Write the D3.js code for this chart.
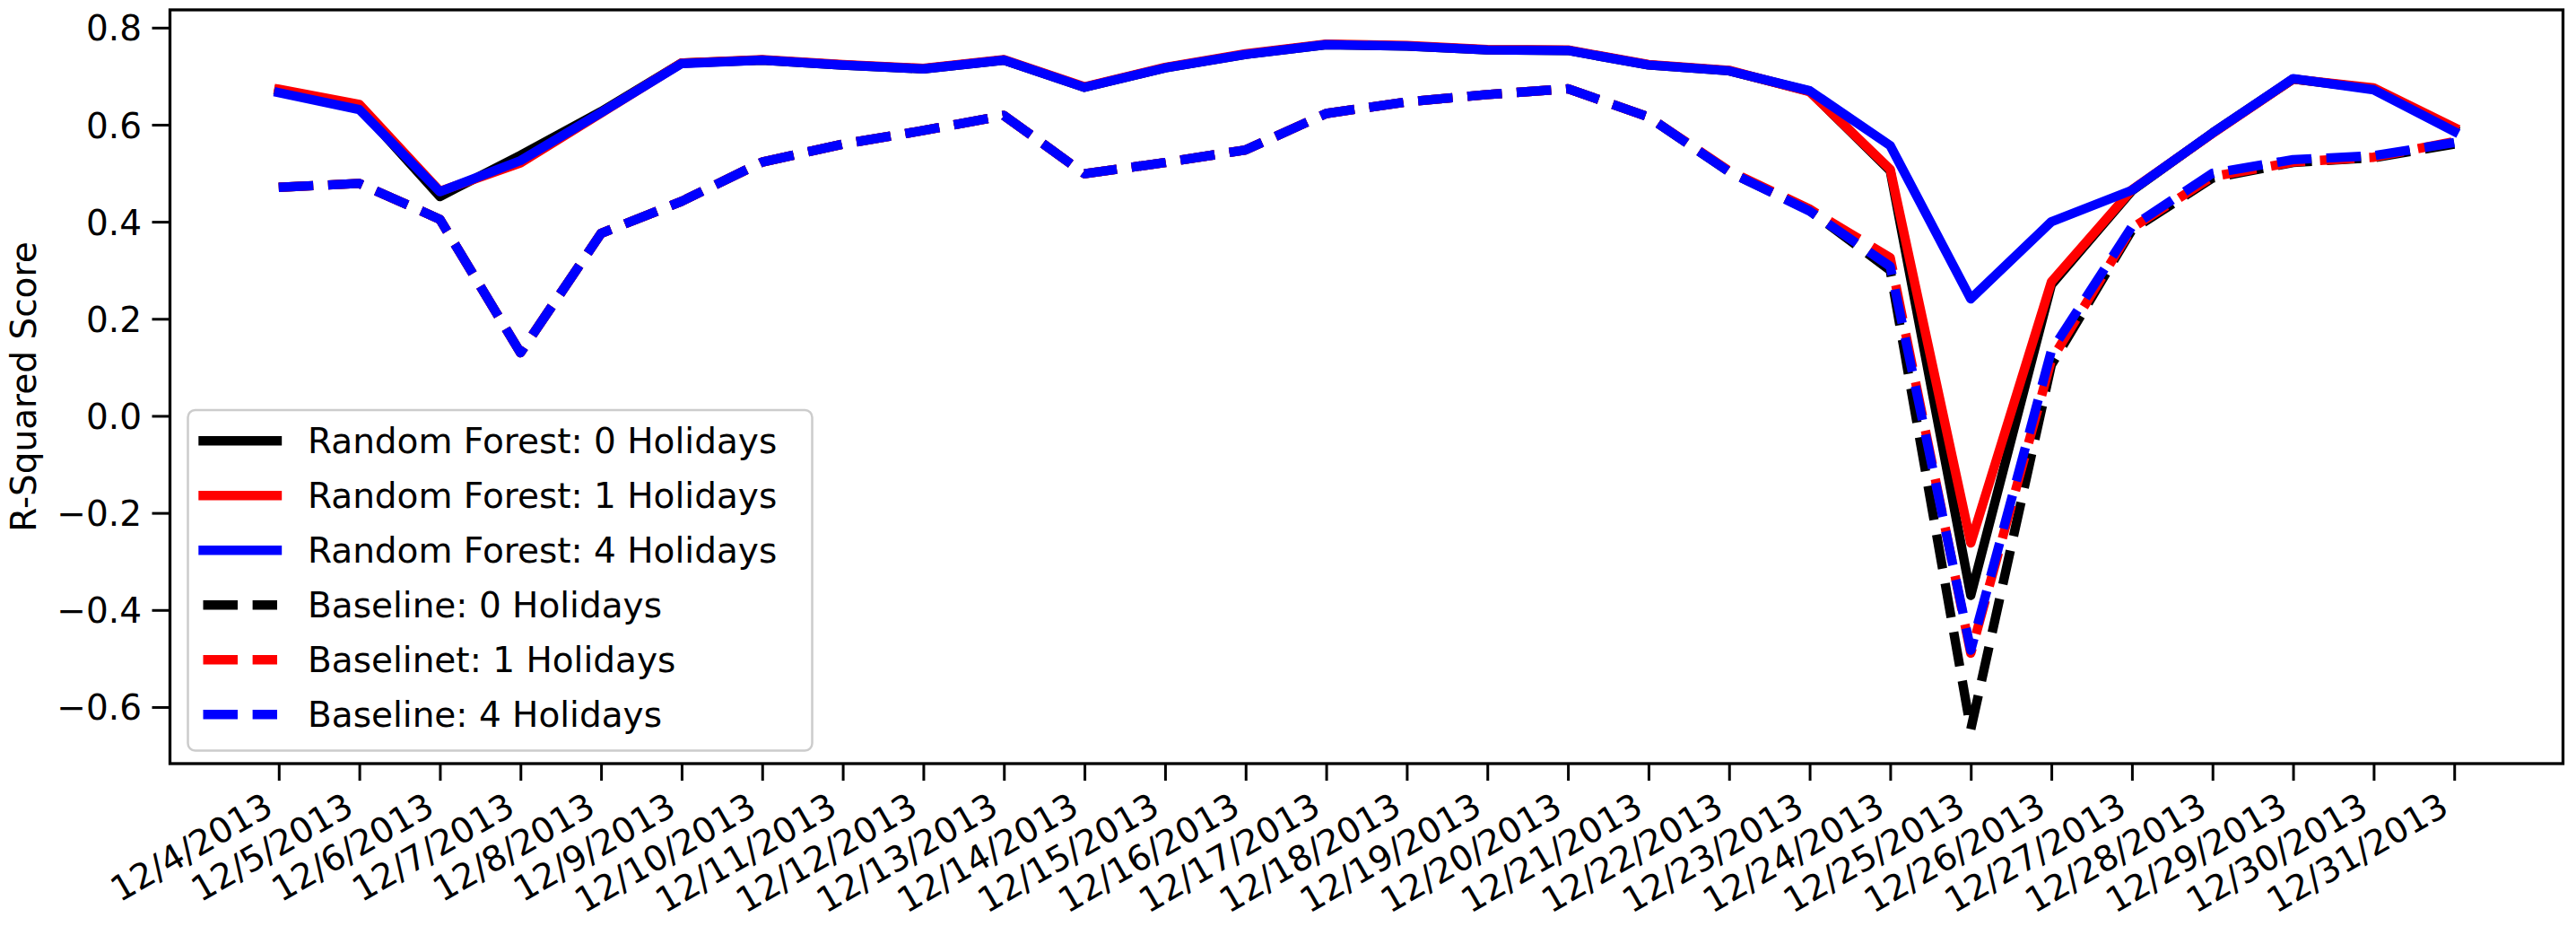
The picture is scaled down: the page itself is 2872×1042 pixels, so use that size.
<!DOCTYPE html>
<html>
<head>
<meta charset="utf-8">
<script src="https://cdn.jsdelivr.net/npm/d3@7"></script>
<style>
  body { margin: 0; background: #fff; }
  text { font-family: "DejaVu Sans", sans-serif; }
</style>
</head>
<body>
<div id="vis"></div>
<script>
// dates on the x axis
const dates = ["12/4/2013", "12/5/2013", "12/6/2013", "12/7/2013", "12/8/2013", "12/9/2013",
  "12/10/2013", "12/11/2013", "12/12/2013", "12/13/2013", "12/14/2013", "12/15/2013",
  "12/16/2013", "12/17/2013", "12/18/2013", "12/19/2013", "12/20/2013", "12/21/2013",
  "12/22/2013", "12/23/2013", "12/24/2013", "12/25/2013", "12/26/2013", "12/27/2013",
  "12/28/2013", "12/29/2013", "12/30/2013", "12/31/2013"];

// r-squared, random forest
const rf0 = [0.670, 0.636, 0.452, 0.537, 0.627, 0.727, 0.733, 0.723, 0.715, 0.733, 0.677, 0.717, 0.745, 0.765,
  0.762, 0.754, 0.753, 0.723, 0.711, 0.669, 0.505, -0.370, 0.270, 0.464, 0.583, 0.694, 0.674, 0.590];
const rf1 = [0.673, 0.642, 0.463, 0.521, 0.624, 0.727, 0.734, 0.724, 0.716, 0.734, 0.678, 0.718, 0.746, 0.766,
  0.763, 0.755, 0.754, 0.724, 0.712, 0.668, 0.508, -0.262, 0.276, 0.466, 0.582, 0.694, 0.676, 0.594];
const rf4 = [0.666, 0.631, 0.462, 0.526, 0.625, 0.726, 0.733, 0.723, 0.715, 0.733, 0.677, 0.717, 0.745, 0.765,
  0.762, 0.754, 0.753, 0.723, 0.711, 0.670, 0.557, 0.241, 0.400, 0.465, 0.583, 0.695, 0.672, 0.586];

// r-squared, baseline
const base0 = [0.471, 0.479, 0.405, 0.130, 0.376, 0.442, 0.523, 0.560, 0.588, 0.619, 0.499, 0.522, 0.548, 0.623,
  0.647, 0.662, 0.674, 0.616, 0.503, 0.423, 0.300, -0.646, 0.105, 0.383, 0.490, 0.522, 0.532, 0.560];
const base1 = [0.471, 0.479, 0.405, 0.130, 0.376, 0.442, 0.523, 0.560, 0.588, 0.619, 0.499, 0.522, 0.548, 0.623,
  0.647, 0.662, 0.674, 0.616, 0.505, 0.426, 0.326, -0.489, 0.115, 0.387, 0.493, 0.523, 0.533, 0.565];
const base4 = [0.471, 0.479, 0.405, 0.130, 0.376, 0.442, 0.523, 0.560, 0.588, 0.619, 0.499, 0.522, 0.548, 0.623,
  0.647, 0.662, 0.674, 0.616, 0.503, 0.422, 0.308, -0.483, 0.134, 0.390, 0.500, 0.528, 0.536, 0.563];

const seriesNames = ["Random Forest: 0 Holidays", "Random Forest: 1 Holidays", "Random Forest: 4 Holidays",
  "Baseline: 0 Holidays", "Baselinet: 1 Holidays", "Baseline: 4 Holidays"];
const seriesValues = [rf0, rf1, rf4, base0, base1, base4];
const seriesColors = ["#000000", "#ff0000", "#0000ff", "#000000", "#ff0000", "#0000ff"];
const seriesDashed = [false, false, false, true, true, true];

const yTicks = [-0.6, -0.4, -0.2, 0.0, 0.2, 0.4, 0.6, 0.8];

let W = 2872, H = 1042;
let margin = { top: 11, left: 189.5, right: 14.5, bottom: 191 };
let plotW = W - margin.left - margin.right,
  plotH = H - margin.top - margin.bottom;

const fontSize = 39;
const lw = 10.4;
const dash = [3.7 * lw, 1.6 * lw].join(",");

let svg = d3.select("#vis")
  .append("svg")
  .attr("width", W)
  .attr("height", H)
  .style("background-color", "white");

let x = d3.scalePoint()
  .domain(dates)
  .range([margin.left, margin.left + plotW])
  .padding(1.35);

// matplotlib style 5% margins
let ext = d3.extent(seriesValues.flat());
let pad = (ext[1] - ext[0]) * 0.05;
let y = d3.scaleLinear()
  .domain([ext[0] - pad, ext[1] + pad])
  .range([margin.top + plotH, margin.top]);

svg.append("clipPath").attr("id", "clip")
  .append("rect")
  .attr("x", margin.left).attr("y", margin.top)
  .attr("width", plotW).attr("height", plotH);

let line = d3.line()
  .x((d, i) => x(dates[i]))
  .y(d => y(d));

let lines = svg.append("g").attr("clip-path", "url(#clip)");
seriesValues.forEach((vals, k) => {
  lines.append("path")
    .datum(vals)
    .attr("d", line)
    .attr("fill", "none")
    .attr("stroke", seriesColors[k])
    .attr("stroke-width", lw)
    .attr("stroke-linejoin", "round")
    .attr("stroke-linecap", seriesDashed[k] ? "butt" : "square")
    .attr("stroke-dasharray", seriesDashed[k] ? dash : null);
});

// axes
let xAxis = svg.append("g")
  .attr("transform", `translate(0,${margin.top + plotH})`)
  .call(d3.axisBottom(x).tickSize(19));
xAxis.select(".domain").remove();
xAxis.selectAll(".tick line").attr("stroke", "#000").attr("stroke-width", 3);
xAxis.selectAll(".tick text")
  .attr("x", 0).attr("y", 0).attr("dy", null)
  .attr("text-anchor", "end")
  .attr("transform", "translate(-4.5,55) rotate(-30)")
  .attr("fill", "#000")
  .style("font-size", fontSize + "px")
  .style("font-family", "DejaVu Sans");

let yAxis = svg.append("g")
  .attr("transform", `translate(${margin.left},0)`)
  .call(d3.axisLeft(y).tickValues(yTicks).tickFormat(d3.format(".1f")).tickSize(20).tickPadding(11.5));
yAxis.select(".domain").remove();
yAxis.selectAll(".tick line").attr("stroke", "#000").attr("stroke-width", 3);
yAxis.selectAll(".tick text")
  .attr("dy", "0.36em")
  .attr("fill", "#000")
  .style("font-size", fontSize + "px")
  .style("font-family", "DejaVu Sans");

// frame
svg.append("rect")
  .attr("x", margin.left).attr("y", margin.top)
  .attr("width", plotW).attr("height", plotH)
  .attr("fill", "none")
  .attr("stroke", "#000")
  .attr("stroke-width", 3.3);

svg.append("text")
  .attr("transform", `translate(40,${margin.top + plotH / 2}) rotate(-90)`)
  .attr("text-anchor", "middle")
  .style("font-size", fontSize + "px")
  .text("R-Squared Score");

// legend
let legend = svg.append("g");
legend.append("rect")
  .attr("x", 209.5).attr("y", 457)
  .attr("width", 696).attr("height", 379.5)
  .attr("rx", 8)
  .attr("fill", "white")
  .attr("fill-opacity", 0.8)
  .attr("stroke", "#cccccc")
  .attr("stroke-width", 2.5);

seriesNames.forEach((name, k) => {
  let ry = 491.3 + k * 61;
  legend.append("line")
    .attr("x1", 226.5).attr("x2", 309)
    .attr("y1", ry).attr("y2", ry)
    .attr("stroke", seriesColors[k])
    .attr("stroke-width", lw)
    .attr("stroke-linecap", seriesDashed[k] ? "butt" : "square")
    .attr("stroke-dasharray", seriesDashed[k] ? dash : null);
  legend.append("text")
    .attr("x", 343)
    .attr("y", ry)
    .attr("dy", "0.36em")
    .style("font-size", fontSize + "px")
    .text(name);
});
</script>
</body>
</html>
